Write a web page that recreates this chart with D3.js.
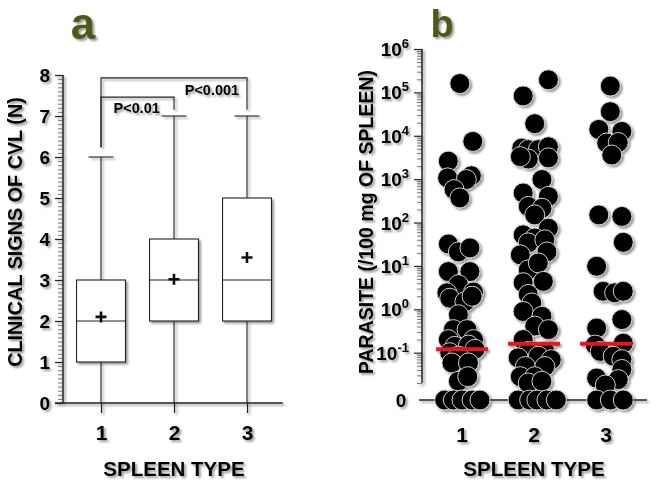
<!DOCTYPE html>
<html><head><meta charset="utf-8">
<script src="https://cdn.jsdelivr.net/npm/d3@7"></script>
<style>
body{margin:0;background:#fff}
svg{display:block}
text{font-family:"Liberation Sans",Arial,sans-serif;font-weight:bold;fill:#000}
</style>
</head><body><svg id="c" width="658" height="486"></svg>
<script>
// ---------- Panel a: clinical signs box plots ----------
const categories = [1, 2, 3];
const boxQ1 = [1, 2, 2];
const boxMedian = [2, 3, 3];
const boxQ3 = [3, 4, 5];
const whiskerLow = [0, 0, 0];
const whiskerHigh = [6, 7, 7];
const boxMean = [2.1, 3.02, 3.55];
const yTicksA = [0, 1, 2, 3, 4, 5, 6, 7, 8];
const comparisons = [
  {from: 1, to: 3, level: 7.93, legFrom: 6.24, legTo: 7.15, label: "P<0.001", labelX: 2.52, labelY: 7.51},
  {from: 1, to: 2, level: 7.46, legFrom: 6.24, legTo: 7.15, label: "P<0.01", labelX: 1.49, labelY: 7.07}
];

// ---------- Panel b: parasite load scatter ----------
const spleen1Parasite = [1.6e5, 7400, 2600, 1070, 1200, 980, 575, 370, 32, 21, 26, 7.4, 7.4, 3.7, 2.4, 2.5, 1.8, 1.5, 2.0, 0.75, 0.34, 0.34, 0.20, 0.20, 0.14, 0.15, 0.10, 0.12, 0.083, 0.058, 0.058, 0.022, 0.028, 0, 0, 0, 0, 0];
const spleen1Jitter   = [-0.03, 0.15, -0.19, -0.20, 0.13, 0.06, -0.11, -0.03, -0.19, -0.05, 0.11, -0.19, 0.11, -0.05, -0.21, 0.16, -0.17, 0.04, 0.14, -0.05, -0.12, 0.07, -0.19, 0.16, -0.10, 0.09, -0.17, 0.18, -0.05, -0.14, 0.09, -0.05, 0.08, -0.24, -0.12, 0.0, 0.14, 0.25];
const spleen2Parasite = [1.95e5, 8.3e4, 1.9e4, 5200, 4800, 4800, 5600, 2900, 3100, 3300, 980, 480, 400, 235, 214, 150, 74, 52, 44, 34, 40, 18, 21, 8.1, 11.7, 4.1, 4.4, 2.2, 1.4, 0.89, 0.69, 0.41, 0.34, 0.20, 0.107, 0.107, 0.076, 0.083, 0.069, 0.048, 0.048, 0.028, 0.028, 0.020, 0.022, 0, 0, 0, 0, 0];
const spleen2Jitter   = [0.20, -0.15, 0.01, -0.17, -0.08, 0.06, 0.20, -0.08, 0.20, -0.19, 0.11, -0.15, 0.20, -0.08, 0.11, 0.01, 0.20, -0.15, 0.01, -0.08, 0.15, -0.19, 0.18, -0.08, 0.06, -0.15, 0.13, -0.08, -0.03, -0.15, 0.11, 0.01, 0.20, -0.15, -0.08, 0.15, -0.22, 0.06, 0.24, -0.12, 0.15, -0.19, 0.01, -0.08, 0.11, -0.22, -0.06, 0.04, 0.18, 0.31];
const spleen3Parasite = [1.4e5, 3.6e4, 1.4e4, 1.26e4, 6800, 7000, 3600, 150, 138, 35, 9.8, 2.6, 2.4, 2.6, 0.58, 0.37, 0.15, 0.166, 0.107, 0.083, 0.069, 0.041, 0.026, 0.024, 0.018, 0, 0, 0];
const spleen3Jitter   = [0.06, 0.06, -0.10, 0.22, 0.01, 0.17, 0.08, -0.10, 0.22, 0.24, -0.13, -0.04, 0.12, 0.24, 0.22, -0.13, -0.15, 0.24, -0.08, 0.10, 0.22, 0.22, -0.13, 0.17, -0.01, -0.13, 0.06, 0.24];
const parasiteMedian = [0.12, 0.16, 0.16];
const logTickExponents = [-1, 0, 1, 2, 3, 4, 5, 6];

const svg = d3.select("#c");
const defs = svg.append("defs");
const f = defs.append("filter").attr("id", "sh").attr("x", "-20%").attr("y", "-20%").attr("width", "140%").attr("height", "140%");
f.append("feDropShadow").attr("dx", 2).attr("dy", 2).attr("stdDeviation", 1.3)
  .attr("flood-color", "#000").attr("flood-opacity", 0.4);

const root = svg.append("g").attr("filter", "url(#sh)");
const fontFam = "'Liberation Sans',Arial,sans-serif";

// ============ PANEL A ============
const ga = root.append("g");
const xa = d3.scaleLinear().domain([1, 3]).range([101, 247]);
const ya = d3.scaleLinear().domain([0, 8]).range([403, 75]);

// panel letter
ga.append("text").attr("x", 83).attr("y", 39).attr("text-anchor", "middle")
  .style("font-size", "44px").style("fill", "#4b5a17").text("a");

// y axis minor ticks
ga.append("g").attr("transform", "translate(63,0)")
  .call(d3.axisLeft(ya).tickValues(d3.range(0, 8.001, 0.1)).tickSize(5).tickFormat(""))
  .call(g => g.select(".domain").remove())
  .call(g => g.selectAll("line").attr("stroke", "#555").attr("stroke-width", 0.8));
// y axis major
ga.append("g").attr("transform", "translate(63,0)")
  .call(d3.axisLeft(ya).tickValues(yTicksA).tickSize(8).tickPadding(5).tickFormat(d3.format("d")))
  .call(g => g.select(".domain").remove())
  .call(g => g.selectAll("line").attr("stroke", "#222").attr("stroke-width", 1.2))
  .call(g => g.selectAll("text").style("font-size", "19px").attr("fill", "#000").style("font-family", fontFam).style("font-weight", "bold"));
ga.append("line").attr("x1", 63).attr("x2", 63).attr("y1", ya(8)).attr("y2", ya(0)).attr("stroke", "#222").attr("stroke-width", 1.5);

// x axis
ga.append("g").attr("transform", `translate(0,${ya(0)})`)
  .call(d3.axisBottom(xa).tickValues(categories).tickSize(10).tickPadding(12).tickFormat(d3.format("d")))
  .call(g => g.select(".domain").remove())
  .call(g => g.selectAll("line").attr("stroke", "#222").attr("stroke-width", 1.2))
  .call(g => g.selectAll("text").style("font-size", "21px").attr("fill", "#000").style("font-family", fontFam).style("font-weight", "bold"));
ga.append("line").attr("x1", xa(0.37)).attr("x2", xa(3.49)).attr("y1", ya(0)).attr("y2", ya(0)).attr("stroke", "#222").attr("stroke-width", 1.5);

// boxes
const halfBox = 0.335, halfCap = 0.17;
categories.forEach((c, i) => {
  const g = ga.append("g");
  g.append("line").attr("x1", xa(c)).attr("x2", xa(c)).attr("y1", ya(whiskerLow[i])).attr("y2", ya(boxQ1[i])).attr("stroke", "#222").attr("stroke-width", 1.1);
  g.append("line").attr("x1", xa(c)).attr("x2", xa(c)).attr("y1", ya(boxQ3[i])).attr("y2", ya(whiskerHigh[i])).attr("stroke", "#222").attr("stroke-width", 1.1);
  g.append("line").attr("x1", xa(c - halfCap)).attr("x2", xa(c + halfCap)).attr("y1", ya(whiskerHigh[i])).attr("y2", ya(whiskerHigh[i])).attr("stroke", "#222").attr("stroke-width", 1.1);
  g.append("rect").attr("x", xa(c - halfBox)).attr("width", xa(c + halfBox) - xa(c - halfBox))
    .attr("y", ya(boxQ3[i])).attr("height", ya(boxQ1[i]) - ya(boxQ3[i]))
    .attr("fill", "#fff").attr("stroke", "#222").attr("stroke-width", 1.1);
  g.append("line").attr("x1", xa(c - halfBox)).attr("x2", xa(c + halfBox)).attr("y1", ya(boxMedian[i])).attr("y2", ya(boxMedian[i])).attr("stroke", "#222").attr("stroke-width", 1.1);
  const mx = xa(c), my = ya(boxMean[i]);
  g.append("path").attr("d", `M${mx - 5.5},${my}H${mx + 5.5}M${mx},${my - 5.5}V${my + 5.5}`).attr("stroke", "#111").attr("stroke-width", 2.6);
});

// comparison brackets
comparisons.forEach(cmp => {
  ga.append("path")
    .attr("d", `M${xa(cmp.from)},${ya(cmp.legFrom)}V${ya(cmp.level)}H${xa(cmp.to)}V${ya(cmp.legTo)}`)
    .attr("fill", "none").attr("stroke", "#222").attr("stroke-width", 1.1);
  ga.append("text").attr("x", xa(cmp.labelX)).attr("y", ya(cmp.labelY)).attr("text-anchor", "middle")
    .style("font-size", "14.5px").text(cmp.label);
});

// axis titles
ga.append("text").attr("transform", "translate(22,232) rotate(-90)").attr("text-anchor", "middle")
  .style("font-size", "19.8px").text("CLINICAL SIGNS OF CVL (N)");
ga.append("text").attr("x", 174).attr("y", 476).attr("text-anchor", "middle")
  .style("font-size", "20.5px").text("SPLEEN TYPE");

// ============ PANEL B ============
const gb = root.append("g");
const xb = d3.scaleLinear().domain([1, 3]).range([462, 606]);
const yb = d3.scaleLog().domain([0.02, 1e6]).range([383, 49]);
const yZero = 400;

gb.append("text").attr("x", 442).attr("y", 37).attr("text-anchor", "middle")
  .style("font-size", "38px").style("fill", "#4b5a17").text("b");

// minor log ticks
const minorVals = [];
for (let k = -2; k <= 5; k++) for (let m = 2; m <= 9; m++) { const v = m * Math.pow(10, k); if (v >= 0.02 && v < 1e6) minorVals.push(v); }
gb.append("g").attr("transform", "translate(422,0)")
  .call(d3.axisLeft(yb).tickValues(minorVals).tickSize(5).tickFormat(""))
  .call(g => g.select(".domain").remove())
  .call(g => g.selectAll("line").attr("stroke", "#555").attr("stroke-width", 0.8));
const majorVals = logTickExponents.map(e => Math.pow(10, e));
gb.append("g").attr("transform", "translate(422,0)")
  .call(d3.axisLeft(yb).tickValues(majorVals).tickSize(8).tickFormat(""))
  .call(g => g.select(".domain").remove())
  .call(g => g.selectAll("line").attr("stroke", "#222").attr("stroke-width", 1.2));
gb.append("line").attr("x1", 422).attr("x2", 422).attr("y1", yb(1e6)).attr("y2", yb(0.02)).attr("stroke", "#222").attr("stroke-width", 1.5);
logTickExponents.forEach(e => {
  const t = gb.append("text").attr("x", 409).attr("y", yb(Math.pow(10, e)) + 7).attr("text-anchor", "end").style("font-size", "19px");
  t.append("tspan").text("10");
  t.append("tspan").attr("dy", -8).style("font-size", "13px").text(String(e));
});
// zero row
gb.append("text").attr("x", 401).attr("y", yZero + 7).attr("text-anchor", "middle").style("font-size", "19px").text("0");
gb.append("line").attr("x1", 419).attr("x2", 647).attr("y1", yZero).attr("y2", yZero).attr("stroke", "#222").attr("stroke-width", 1.4);

// x tick labels
gb.selectAll(".xl").data(categories).join("text").attr("class", "xl")
  .attr("x", d => xb(d)).attr("y", 442).attr("text-anchor", "middle").style("font-size", "21px").text(d => d);

// points
const groups = [
  {cat: 1, vals: spleen1Parasite, jit: spleen1Jitter},
  {cat: 2, vals: spleen2Parasite, jit: spleen2Jitter},
  {cat: 3, vals: spleen3Parasite, jit: spleen3Jitter}
];
const pts = [];
groups.forEach(g => g.vals.forEach((v, i) => pts.push({x: g.cat + g.jit[i], v})));
gb.append("g").selectAll("circle").data(pts).join("circle")
  .attr("cx", d => xb(d.x)).attr("cy", d => d.v === 0 ? yZero : yb(d.v)).attr("r", 10)
  .attr("fill", "#000").attr("stroke", "#d0d0d0").attr("stroke-width", 1);

// medians
gb.append("g").selectAll("line").data(categories).join("line")
  .attr("x1", d => xb(d - 0.36)).attr("x2", d => xb(d + 0.36))
  .attr("y1", (d, i) => yb(parasiteMedian[i])).attr("y2", (d, i) => yb(parasiteMedian[i]))
  .attr("stroke", "#e8141c").attr("stroke-width", 4);

// axis titles
gb.append("text").attr("transform", "translate(373,222) rotate(-90)").attr("text-anchor", "middle")
  .style("font-size", "19.5px").text("PARASITE (/100 mg OF SPLEEN)");
gb.append("text").attr("x", 534).attr("y", 476).attr("text-anchor", "middle")
  .style("font-size", "20.5px").text("SPLEEN TYPE");
</script>
</body></html>
